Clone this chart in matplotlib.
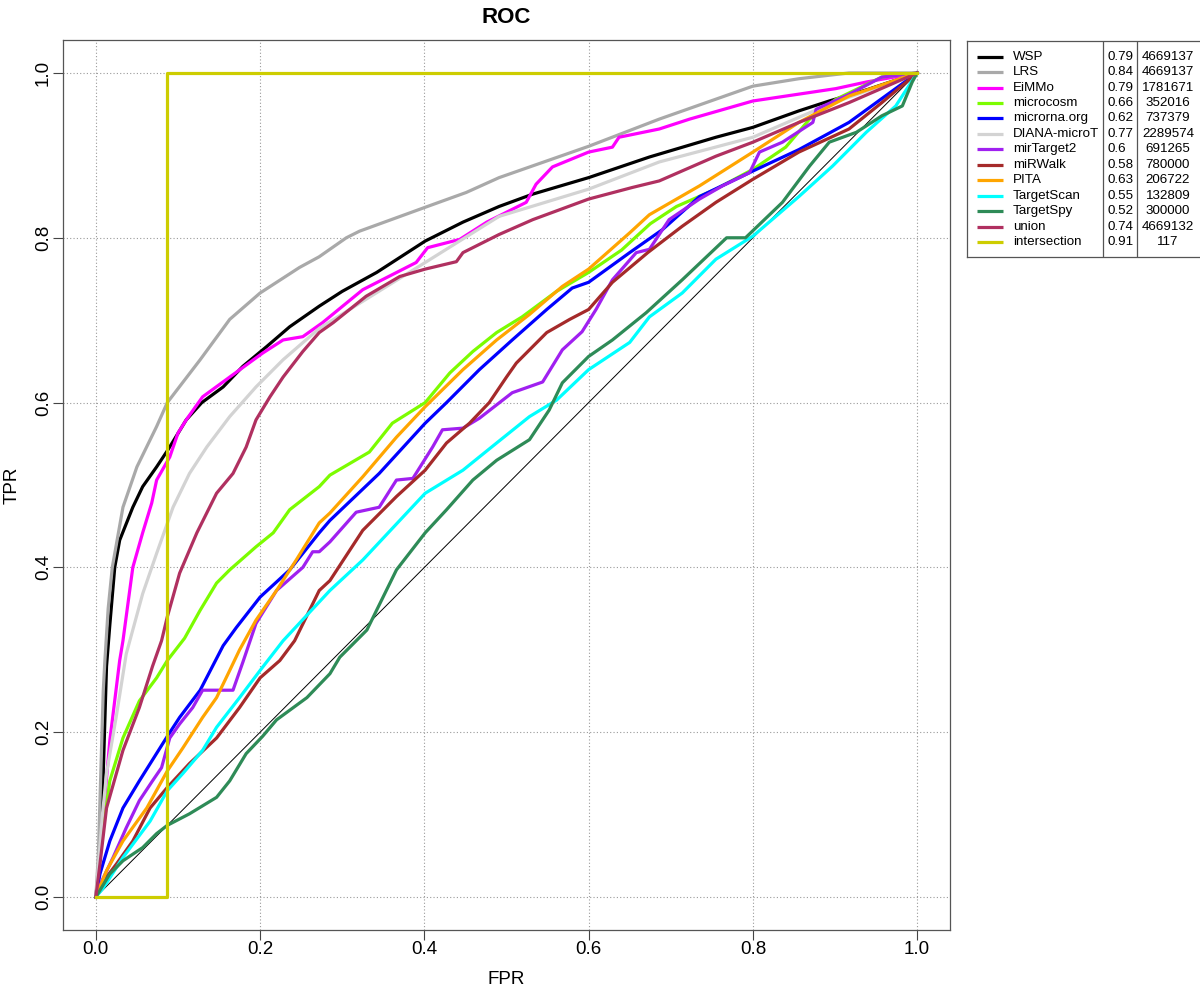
import matplotlib.pyplot as plt

plt.rcParams['font.family'] = ['Liberation Sans', 'DejaVu Sans']

# legend table
methods = ['WSP', 'LRS', 'EiMMo', 'microcosm', 'microrna.org', 'DIANA-microT', 'mirTarget2',
           'miRWalk', 'PITA', 'TargetScan', 'TargetSpy', 'union', 'intersection']
auc = ['0.79', '0.84', '0.79', '0.66', '0.62', '0.77', '0.6', '0.58', '0.63', '0.55', '0.52', '0.74', '0.91']
counts = ['4669137', '4669137', '1781671', '352016', '737379', '2289574', '691265',
          '780000', '206722', '132809', '300000', '4669132', '117']
colors = ['#000000', '#A9A9A9', '#FF00FF', '#7CFC00', '#0000FF', '#D3D3D3', '#A020F0',
          '#A52A2A', '#FFA500', '#00FFFF', '#2E8B57', '#B03060', '#CDCD00']

# ROC curves
wsp_fpr = [0, 0.003, 0.009, 0.013, 0.017, 0.023, 0.029, 0.045, 0.057, 0.074, 0.088, 0.110, 0.129, 0.155,
           0.179, 0.208, 0.236, 0.272, 0.300, 0.342, 0.401, 0.447, 0.491, 0.532, 0.600, 0.674, 0.755,
           0.800, 0.856, 0.893, 0.940, 1.0]
wsp_tpr = [0, 0.03, 0.15, 0.28, 0.33, 0.400, 0.433, 0.473, 0.498, 0.522, 0.543, 0.579, 0.600, 0.619,
           0.644, 0.668, 0.692, 0.717, 0.735, 0.758, 0.796, 0.819, 0.838, 0.853, 0.873, 0.898, 0.922,
           0.934, 0.954, 0.966, 0.980, 1.0]

lrs_fpr = [0, 0.003, 0.006, 0.009, 0.011, 0.015, 0.020, 0.033, 0.050, 0.074, 0.087, 0.127, 0.163, 0.200,
           0.248, 0.272, 0.305, 0.321, 0.401, 0.451, 0.491, 0.600, 0.686, 0.800, 0.856, 0.917, 1.0]
lrs_tpr = [0, 0.05, 0.15, 0.25, 0.287, 0.35, 0.40, 0.473, 0.522, 0.571, 0.600, 0.652, 0.701, 0.733,
           0.764, 0.777, 0.800, 0.808, 0.837, 0.855, 0.873, 0.911, 0.944, 0.984, 0.993, 1.0, 1.0]

eimmo_fpr = [0, 0.005, 0.010, 0.017, 0.029, 0.033, 0.045, 0.057, 0.068, 0.074, 0.090, 0.100, 0.110, 0.130,
             0.163, 0.203, 0.228, 0.252, 0.276, 0.325, 0.390, 0.404, 0.443, 0.476, 0.524, 0.536, 0.556,
             0.600, 0.629, 0.637, 0.686, 0.723, 0.800, 0.901, 0.938, 1.0]
eimmo_tpr = [0, 0.05, 0.11, 0.190, 0.287, 0.311, 0.400, 0.442, 0.478, 0.506, 0.534, 0.563, 0.579, 0.607,
             0.631, 0.660, 0.676, 0.680, 0.697, 0.737, 0.770, 0.788, 0.798, 0.819, 0.843, 0.865, 0.886,
             0.904, 0.910, 0.922, 0.932, 0.944, 0.966, 0.981, 0.989, 1.0]

microcosm_fpr = [0, 0.009, 0.017, 0.033, 0.053, 0.074, 0.087, 0.108, 0.127, 0.147, 0.163, 0.195, 0.216,
                 0.236, 0.272, 0.285, 0.333, 0.361, 0.401, 0.431, 0.459, 0.488, 0.519, 0.561, 0.600,
                 0.640, 0.675, 0.707, 0.755, 0.800, 0.840, 0.869, 0.901, 0.957, 1.0]
microcosm_tpr = [0, 0.084, 0.141, 0.193, 0.238, 0.266, 0.287, 0.314, 0.348, 0.381, 0.397, 0.425, 0.442,
                 0.470, 0.498, 0.512, 0.540, 0.575, 0.600, 0.636, 0.662, 0.685, 0.704, 0.735, 0.758,
                 0.785, 0.817, 0.838, 0.859, 0.883, 0.910, 0.944, 0.968, 0.995, 1.0]

microrna_fpr = [0, 0.005, 0.017, 0.033, 0.053, 0.087, 0.102, 0.127, 0.155, 0.171, 0.200, 0.236, 0.272,
                0.285, 0.345, 0.401, 0.427, 0.467, 0.507, 0.549, 0.580, 0.600, 0.650, 0.690, 0.735,
                0.800, 0.856, 0.917, 1.0]
microrna_tpr = [0, 0.028, 0.068, 0.108, 0.141, 0.195, 0.218, 0.251, 0.305, 0.327, 0.364, 0.397, 0.442,
                0.457, 0.514, 0.575, 0.600, 0.640, 0.676, 0.713, 0.739, 0.746, 0.782, 0.810, 0.850,
                0.881, 0.907, 0.940, 1.0]

diana_fpr = [0, 0.004, 0.008, 0.013, 0.025, 0.037, 0.057, 0.074, 0.094, 0.114, 0.135, 0.163, 0.195, 0.228,
             0.272, 0.309, 0.401, 0.491, 0.600, 0.686, 0.800, 0.893, 1.0]
diana_tpr = [0, 0.05, 0.10, 0.150, 0.22, 0.295, 0.368, 0.417, 0.473, 0.514, 0.546, 0.583, 0.619, 0.652,
             0.690, 0.713, 0.770, 0.826, 0.859, 0.892, 0.922, 0.962, 1.0]

mirtarget_fpr = [0, 0.007, 0.021, 0.037, 0.053, 0.069, 0.080, 0.090, 0.102, 0.118, 0.130, 0.167, 0.179,
                 0.195, 0.220, 0.252, 0.264, 0.272, 0.285, 0.317, 0.345, 0.366, 0.386, 0.410, 0.422,
                 0.447, 0.467, 0.507, 0.544, 0.568, 0.592, 0.609, 0.629, 0.658, 0.674, 0.698, 0.735,
                 0.763, 0.796, 0.808, 0.836, 0.873, 0.877, 0.917, 0.957, 1.0]
mirtarget_tpr = [0, 0.019, 0.048, 0.084, 0.117, 0.141, 0.157, 0.193, 0.210, 0.230, 0.251, 0.251, 0.285,
                 0.332, 0.372, 0.400, 0.419, 0.419, 0.431, 0.467, 0.473, 0.506, 0.508, 0.546, 0.567,
                 0.569, 0.581, 0.612, 0.625, 0.664, 0.686, 0.713, 0.749, 0.782, 0.786, 0.822, 0.847,
                 0.863, 0.879, 0.904, 0.916, 0.940, 0.956, 0.974, 0.995, 1.0]

mirwalk_fpr = [0, 0.009, 0.025, 0.045, 0.066, 0.087, 0.114, 0.147, 0.175, 0.200, 0.224, 0.242, 0.272,
               0.285, 0.325, 0.366, 0.401, 0.427, 0.455, 0.479, 0.500, 0.512, 0.549, 0.577, 0.600,
               0.629, 0.672, 0.714, 0.755, 0.800, 0.856, 0.917, 0.957, 1.0]
mirwalk_tpr = [0, 0.019, 0.040, 0.068, 0.108, 0.133, 0.162, 0.193, 0.230, 0.266, 0.287, 0.311, 0.372,
               0.384, 0.445, 0.486, 0.518, 0.551, 0.575, 0.600, 0.631, 0.648, 0.685, 0.701, 0.713,
               0.746, 0.782, 0.814, 0.843, 0.871, 0.904, 0.932, 0.964, 1.0]

pita_fpr = [0, 0.013, 0.033, 0.062, 0.087, 0.106, 0.130, 0.147, 0.163, 0.175, 0.195, 0.220, 0.244, 0.272,
            0.285, 0.325, 0.366, 0.401, 0.447, 0.488, 0.528, 0.568, 0.600, 0.650, 0.674, 0.735, 0.800,
            0.856, 0.917, 1.0]
pita_tpr = [0, 0.032, 0.068, 0.108, 0.153, 0.181, 0.218, 0.242, 0.275, 0.300, 0.336, 0.372, 0.409, 0.454,
            0.466, 0.510, 0.558, 0.595, 0.640, 0.676, 0.707, 0.741, 0.762, 0.806, 0.828, 0.863, 0.904,
            0.940, 0.972, 1.0]

targetscan_fpr = [0, 0.009, 0.033, 0.066, 0.087, 0.106, 0.130, 0.147, 0.175, 0.200, 0.228, 0.285, 0.325,
                  0.401, 0.447, 0.488, 0.528, 0.561, 0.600, 0.650, 0.674, 0.714, 0.755, 0.800, 0.856,
                  0.897, 0.938, 0.974, 1.0]
targetscan_tpr = [0, 0.011, 0.048, 0.092, 0.129, 0.150, 0.178, 0.206, 0.242, 0.275, 0.311, 0.372, 0.409,
                  0.490, 0.518, 0.551, 0.583, 0.603, 0.640, 0.673, 0.704, 0.733, 0.774, 0.802, 0.850,
                  0.887, 0.928, 0.960, 1.0]

targetspy_fpr = [0, 0.017, 0.033, 0.057, 0.074, 0.087, 0.114, 0.147, 0.163, 0.183, 0.203, 0.220, 0.257,
                 0.285, 0.297, 0.330, 0.366, 0.401, 0.427, 0.459, 0.488, 0.528, 0.552, 0.568, 0.600,
                 0.629, 0.670, 0.714, 0.768, 0.791, 0.836, 0.869, 0.893, 0.926, 0.957, 0.982, 0.994, 1.0]
targetspy_tpr = [0, 0.028, 0.044, 0.060, 0.077, 0.087, 0.101, 0.121, 0.141, 0.174, 0.195, 0.215, 0.242,
                 0.271, 0.291, 0.324, 0.397, 0.442, 0.470, 0.506, 0.530, 0.555, 0.591, 0.624, 0.656,
                 0.676, 0.709, 0.749, 0.800, 0.800, 0.843, 0.887, 0.916, 0.928, 0.948, 0.960, 0.989, 1.0]

union_fpr = [0, 0.005, 0.013, 0.033, 0.053, 0.069, 0.080, 0.087, 0.102, 0.123, 0.147, 0.167, 0.183, 0.195,
             0.212, 0.228, 0.252, 0.272, 0.289, 0.329, 0.370, 0.401, 0.439, 0.447, 0.491, 0.532, 0.600,
             0.653, 0.686, 0.755, 0.800, 0.856, 0.917, 1.0]
union_tpr = [0, 0.04, 0.108, 0.178, 0.230, 0.280, 0.311, 0.340, 0.393, 0.442, 0.490, 0.514, 0.546, 0.579,
             0.607, 0.631, 0.662, 0.685, 0.697, 0.729, 0.753, 0.762, 0.771, 0.782, 0.804, 0.822, 0.847,
             0.861, 0.869, 0.899, 0.916, 0.940, 0.964, 1.0]

intersection_fpr = [0, 0.0868, 0.0868, 1.0]
intersection_tpr = [0, 0, 1.0, 1.0]

curves = [(wsp_fpr, wsp_tpr), (lrs_fpr, lrs_tpr), (eimmo_fpr, eimmo_tpr), (microcosm_fpr, microcosm_tpr),
          (microrna_fpr, microrna_tpr), (diana_fpr, diana_tpr), (mirtarget_fpr, mirtarget_tpr),
          (mirwalk_fpr, mirwalk_tpr), (pita_fpr, pita_tpr), (targetscan_fpr, targetscan_tpr),
          (targetspy_fpr, targetspy_tpr), (union_fpr, union_tpr), (intersection_fpr, intersection_tpr)]

ticks = [0.0, 0.2, 0.4, 0.6, 0.8, 1.0]

fig = plt.figure(figsize=(12, 9.88), dpi=100)
ax = fig.add_axes([63 / 1200, 1 - 930 / 988, 887 / 1200, 890 / 988])

for t in ticks:
    ax.axvline(t, color='#9a9a9a', lw=0.8, ls=(0, (1, 2)), zorder=0)
    ax.axhline(t, color='#9a9a9a', lw=0.8, ls=(0, (1, 2)), zorder=0)

ax.plot([0, 1], [0, 1], color='black', lw=0.7, zorder=1)
for (fpr, tpr), col in zip(curves, colors):
    ax.plot(fpr, tpr, color=col, lw=2.3, solid_joinstyle='round', zorder=2)

ax.set_xlim(-0.04, 1.04)
ax.set_ylim(-0.04, 1.04)
ax.set_xticks(ticks)
ax.set_yticks(ticks)
ax.set_xticklabels([f'{t:.1f}' for t in ticks])
ax.set_yticklabels([f'{t:.1f}' for t in ticks], rotation=90, va='center')
ax.tick_params(length=7, width=0.8, color='#444444', labelsize=13.5, pad=1)
for sp in ax.spines.values():
    sp.set_color('#555555')
    sp.set_linewidth(0.9)

ax.set_xlabel('FPR', fontsize=13.5, va='center')
ax.set_ylabel('TPR', fontsize=13.5, va='center')
ax.xaxis.set_label_coords(0.5, (930 - 980) / 890)
ax.yaxis.set_label_coords((12 - 63) / 887, 0.5)
ax.set_title('ROC', fontsize=16, fontweight='bold', pad=12)

# legend table drawn in pixel coordinates
lg = fig.add_axes([967 / 1200, 1 - 257 / 988, 240 / 1200, 216 / 988])
lg.set_xlim(967, 1207)
lg.set_ylim(257, 41)
lg.set_xticks([])
lg.set_yticks([])
for sp in lg.spines.values():
    sp.set_color('#555555')
    sp.set_linewidth(0.9)
for xv in (1102.7, 1137):
    lg.axvline(xv, color='#555555', lw=0.9)
for i, name in enumerate(methods):
    y = 56.7 + i * 15.44
    lg.plot([977, 1003], [y, y], color=colors[i], lw=2.3, solid_capstyle='butt')
    lg.text(1013, y, name, fontsize=9.6, va='center', ha='left')
    lg.text(1107, y, auc[i], fontsize=9.6, va='center', ha='left')
    lg.text(1168, y, counts[i], fontsize=9.6, va='center', ha='center')

fig.savefig('out.png', dpi=100)
